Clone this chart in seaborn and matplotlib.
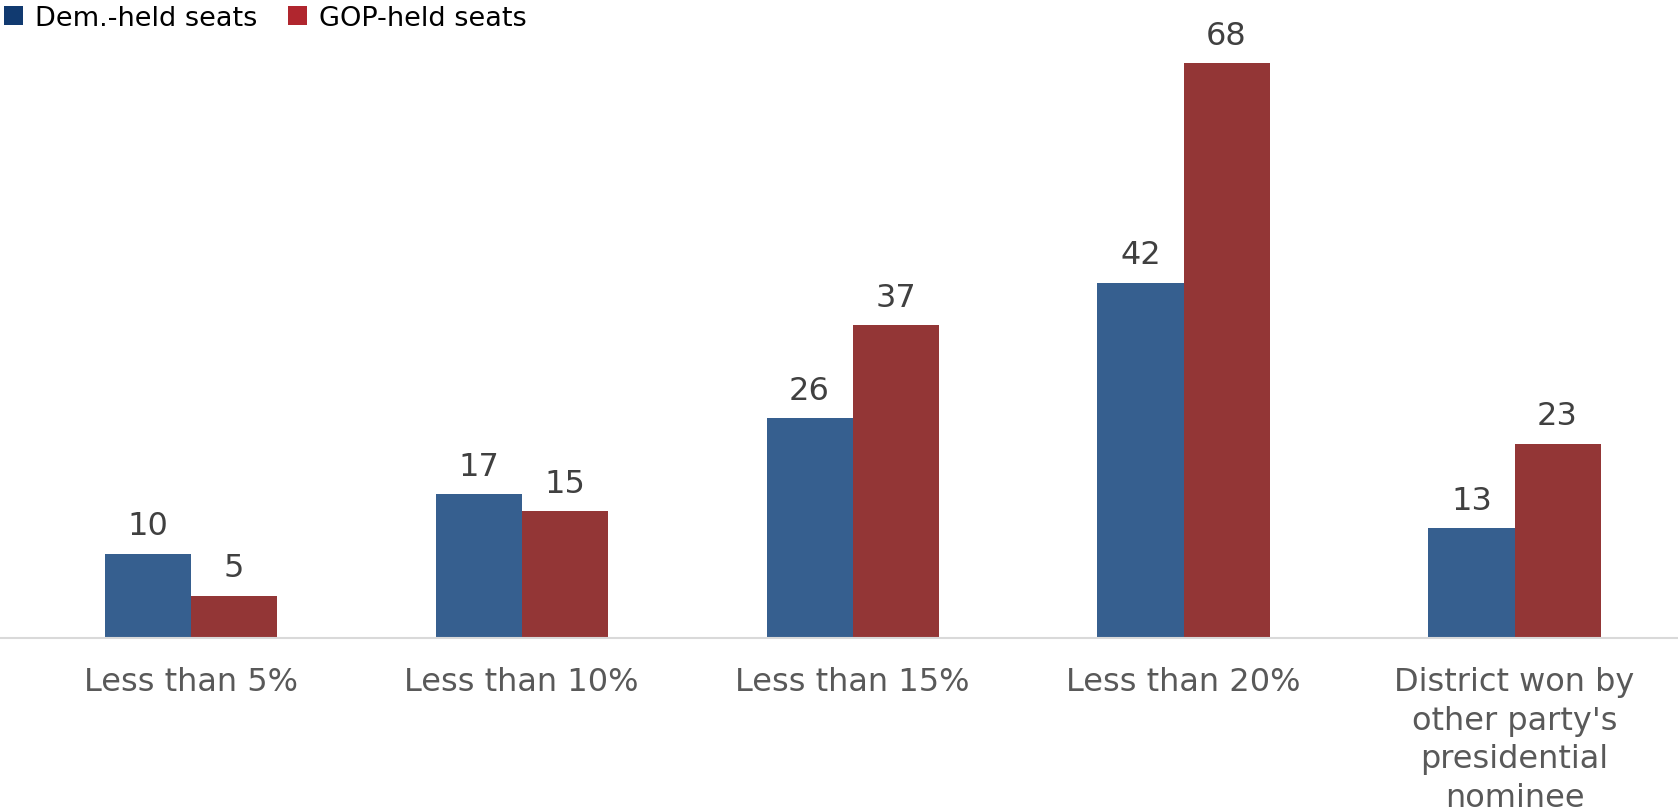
import numpy as np
import pandas as pd
import matplotlib
matplotlib.use("Agg")
import matplotlib.pyplot as plt
import seaborn as sns
from matplotlib.patches import Patch

categories = ["Less than 5%", "Less than 10%", "Less than 15%", "Less than 20%",
              "District won by\nother party's\npresidential\nnominee"]
dem_seats = [10, 17, 26, 42, 13]
gop_seats = [5, 15, 37, 68, 23]
series_names = ["Dem.-held seats", "GOP-held seats"]

bar_colors = ["#365f8f", "#933636"]
legend_colors = ["#113a70", "#b0262e"]

df = pd.DataFrame({
    "category": categories * 2,
    "series": [series_names[0]] * len(categories) + [series_names[1]] * len(categories),
    "seats": dem_seats + gop_seats,
})

sns.set_theme(style="white")
plt.rcParams["font.family"] = ["DejaVu Sans"]

fig = plt.figure(figsize=(16.78, 8.12), dpi=100)
ax = fig.add_axes([0, 0.213, 1, 0.708])

sns.barplot(data=df, x="category", y="seats", hue="series", order=categories,
            hue_order=series_names, palette=bar_colors, width=0.52,
            saturation=1, ax=ax, legend=False, linewidth=0)

for container in ax.containers:
    ax.bar_label(container, fmt="%d", padding=9, fontsize=23, color="#404040")

ax.set_xlim(-0.576, 4.494)
ax.set_ylim(0, 68)
ax.set_xlabel("")
ax.set_ylabel("")
ax.set_yticks([])
for side in ["top", "right", "left"]:
    ax.spines[side].set_visible(False)
ax.spines["bottom"].set_color("#d9d9d9")
ax.spines["bottom"].set_linewidth(1.5)
ax.tick_params(axis="x", length=0, pad=20, labelsize=23, labelcolor="#595959")
for lbl in ax.get_xticklabels():
    lbl.set_verticalalignment("top")
    lbl.set_linespacing(1.32)

handles = [Patch(facecolor=c, edgecolor="none") for c in legend_colors]
fig.legend(handles, series_names, loc="upper left", bbox_to_anchor=(-0.004, 1.006),
           ncol=2, frameon=False, fontsize=19.5, handlelength=0.68, handleheight=0.68,
           handletextpad=0.45, columnspacing=1.15, borderaxespad=0.1, borderpad=0.3,
           labelcolor="#000000")

fig.savefig("out.png", dpi=100)
